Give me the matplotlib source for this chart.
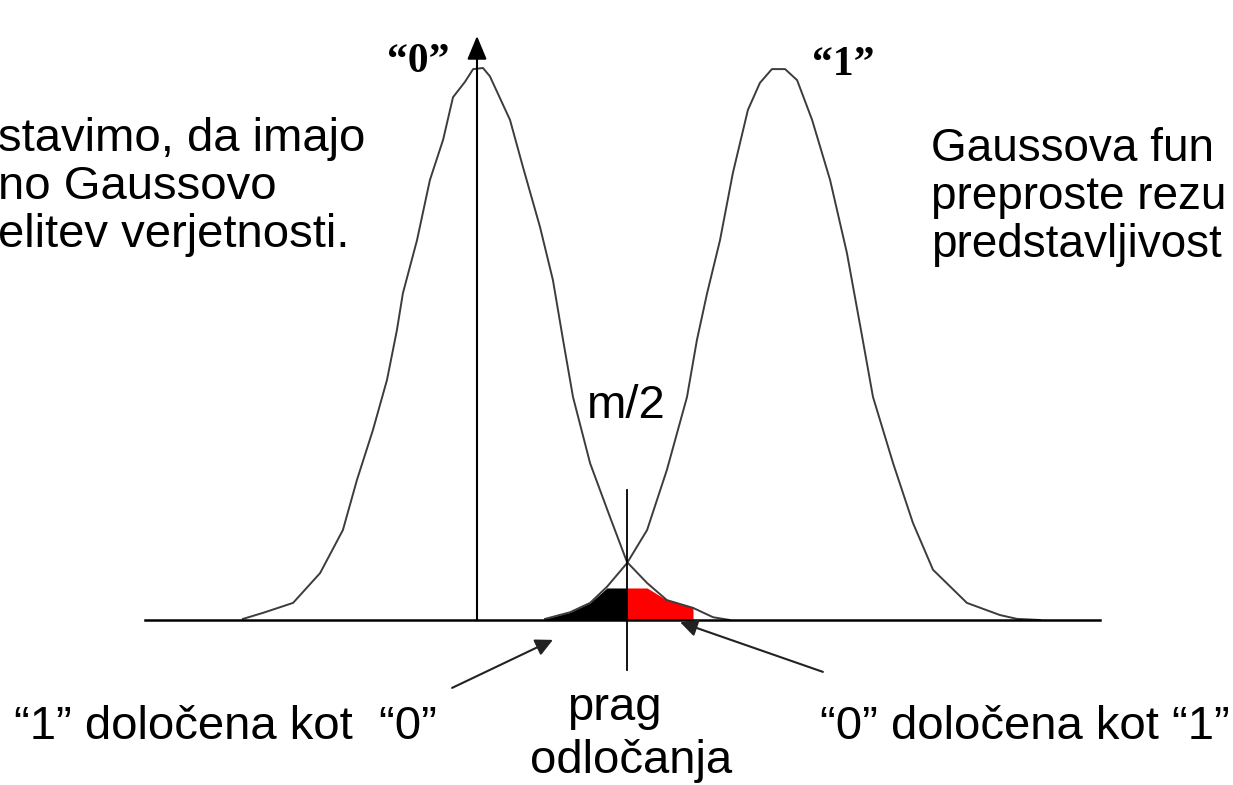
import numpy as np
import matplotlib
matplotlib.use("Agg")
import matplotlib.pyplot as plt

# x in units of m (mean of "0" at 0, mean of "1" at 1), y relative to peak height
x0 = [-0.78, -0.713, -0.613, -0.523, -0.447, -0.40, -0.347, -0.30, -0.267, -0.247,
      -0.20, -0.157, -0.113, -0.08, -0.04, -0.013, 0.02, 0.043, 0.11, 0.153, 0.21,
      0.253, 0.287, 0.32, 0.377, 0.443, 0.50, 0.567, 0.633, 0.72, 0.787, 0.843]
y0 = [0.002, 0.013, 0.031, 0.085, 0.163, 0.254, 0.344, 0.435, 0.525, 0.592,
      0.688, 0.797, 0.870, 0.947, 0.975, 0.998, 1.0, 0.985, 0.906, 0.821, 0.712,
      0.616, 0.507, 0.404, 0.284, 0.187, 0.105, 0.067, 0.036, 0.022, 0.005, 0.0]

x1 = [0.227, 0.31, 0.377, 0.433, 0.50, 0.567, 0.633, 0.70, 0.733, 0.767, 0.81,
      0.853, 0.903, 0.943, 0.983, 1.027, 1.067, 1.117, 1.177, 1.233, 1.283, 1.32,
      1.387, 1.453, 1.52, 1.633, 1.743, 1.80, 1.877]
y1 = [0.002, 0.014, 0.031, 0.060, 0.103, 0.163, 0.272, 0.404, 0.507, 0.592, 0.688,
      0.81, 0.924, 0.973, 0.998, 0.998, 0.978, 0.906, 0.797, 0.665, 0.516, 0.404,
      0.284, 0.176, 0.091, 0.031, 0.009, 0.002, 0.0]

threshold = 0.5
shade_cap = 0.058
shade_lo, shade_hi = 0.22, 0.72

left_lines = ["stavimo, da imajo", "no Gaussovo", "elitev verjetnosti."]
right_lines = ["Gaussova fun", "preproste rezu", "predstavljivost"]

W, H = 1233, 785
fig = plt.figure(figsize=(W / 100, H / 100), dpi=100)
ax = fig.add_axes([0, 0, 1, 1])
# pixel mapping: mean "0" at px 477, m = 300 px, baseline at py 620, peak 552 px high
ax.set_xlim(-477 / 300, (W - 477) / 300)
ax.set_ylim((620 - H) / 552, 620 / 552)
ax.axis("off")

sans = "Liberation Sans"
serif = "Liberation Serif"
fs = 34

def px(x, y):
    return x / W, 1 - y / H

# shaded error regions
x0a, y0a = np.array(x0), np.array(y0)
x1a, y1a = np.array(x1), np.array(y1)
mb = (x1a >= shade_lo) & (x1a <= threshold)
ax.fill_between(x1a[mb], 0, np.minimum(y1a[mb], shade_cap), color="black", lw=0)
mr = (x0a >= threshold) & (x0a <= shade_hi)
ax.fill_between(x0a[mr], 0, np.minimum(y0a[mr], shade_cap), color="#ff0000", lw=0)

# curves
ax.plot(x0, y0, color="#3c3c3c", lw=1.4, solid_joinstyle="round")
ax.plot(x1, y1, color="#3c3c3c", lw=1.4, solid_joinstyle="round")

# baseline and vertical axis
ax.plot([-1.107, 2.077], [0, 0], color="black", lw=1.8)
ax.annotate("", xy=(0, 1.058), xytext=(0, 0),
            arrowprops=dict(arrowstyle="-|>,head_length=0.6,head_width=0.25",
                            color="black", lw=1.5, mutation_scale=24,
                            shrinkA=0, shrinkB=0))

# decision threshold
ax.plot([threshold, threshold], [0.2355, -0.091], color="black", lw=1.3)

# arrows to the error regions
ax.annotate("", xy=(0.253, -0.036), xytext=(-0.083, -0.123),
            arrowprops=dict(arrowstyle="-|>", color="#222222", lw=1.5,
                            mutation_scale=26, shrinkA=0, shrinkB=0))
ax.annotate("", xy=(0.677, -0.004), xytext=(1.153, -0.094),
            arrowprops=dict(arrowstyle="-|>", color="#222222", lw=1.5,
                            mutation_scale=26, shrinkA=0, shrinkB=0))

# labels
fig.text(*px(418, 62), "\u201c0\u201d", family=serif, weight="bold", fontsize=30,
         ha="center", va="center")
fig.text(*px(843, 65), "\u201c1\u201d", family=serif, weight="bold", fontsize=30,
         ha="center", va="center")
fig.text(*px(587, 418), "m/2", family=sans, fontsize=fs, ha="left", va="baseline")

for i, s in enumerate(left_lines):
    fig.text(*px(-2, 151 + 48 * i), s, family=sans, fontsize=fs, ha="left", va="baseline")
for i, s in enumerate(right_lines):
    fig.text(*px(931, 161 + 48 * i), s, family=sans, fontsize=33, ha="left", va="baseline")

fig.text(*px(14, 739), "\u201c1\u201d določena kot  \u201c0\u201d", family=sans,
         fontsize=fs, ha="left", va="baseline")
fig.text(*px(820, 739), "\u201c0\u201d določena kot \u201c1\u201d", family=sans,
         fontsize=fs, ha="left", va="baseline")
fig.text(*px(614, 720), "prag", family=sans, fontsize=fs, ha="center", va="baseline")
fig.text(*px(631, 773), "odločanja", family=sans, fontsize=fs, ha="center", va="baseline")

fig.savefig("out.png", dpi=100)
